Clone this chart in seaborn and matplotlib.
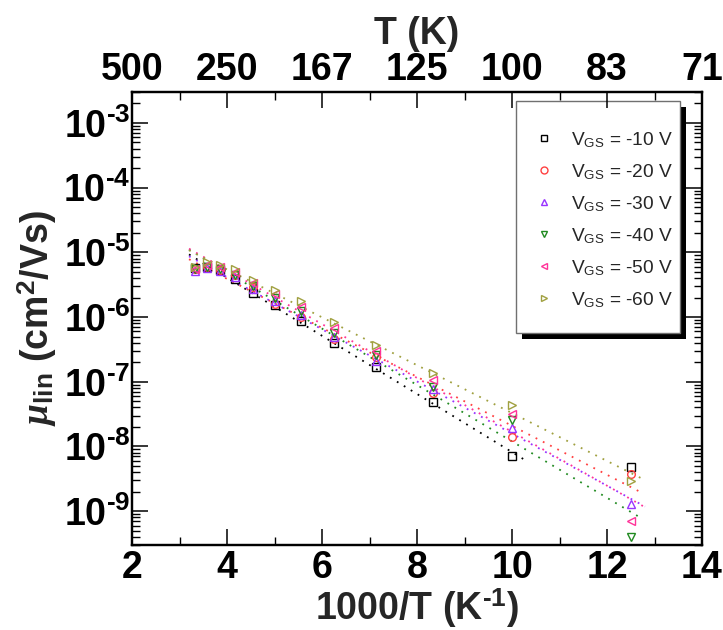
import numpy as np
import pandas as pd
import matplotlib
matplotlib.use('Agg')
import matplotlib.pyplot as plt
import seaborn as sns
from matplotlib.lines import Line2D
from matplotlib.patches import Rectangle
from matplotlib.ticker import MultipleLocator, LogLocator, NullFormatter, FuncFormatter

# ---------------- data ----------------
temperature_K = [300, 280, 260, 240, 220, 200, 180, 160, 140, 120, 100, 80]
vgs_labels = ['-10', '-20', '-30', '-40', '-50', '-60']

mu_vgs_m10 = [5.8e-6, 6.0e-6, 5.3e-6, 3.9e-6, 2.35e-6, 1.55e-6, 8.8e-7, 4.0e-7, 1.66e-7, 4.9e-8, 7.0e-9, 4.8e-9]
mu_vgs_m20 = [5.5e-6, 6.0e-6, 5.4e-6, 4.4e-6, 2.9e-6, 1.6e-6, 1.0e-6, 4.6e-7, 2.4e-7, 6.6e-8, 1.39e-8, 3.8e-9]
mu_vgs_m30 = [5.2e-6, 5.8e-6, 5.2e-6, 4.2e-6, 2.7e-6, 1.77e-6, 1.07e-6, 4.9e-7, 2.1e-7, 7.7e-8, 1.9e-8, 1.3e-9]
mu_vgs_m40 = [5.5e-6, 6.0e-6, 5.5e-6, 4.4e-6, 3.0e-6, 2.0e-6, 1.25e-6, 5.6e-7, 2.6e-7, 8.3e-8, 2.6e-8, 4.0e-10]
mu_vgs_m50 = [5.6e-6, 6.4e-6, 6.0e-6, 5.0e-6, 3.3e-6, 2.27e-6, 1.45e-6, 6.7e-7, 3.0e-7, 1.07e-7, 3.2e-8, 7.1e-10]
mu_vgs_m60 = [6.0e-6, 7.1e-6, 6.4e-6, 5.5e-6, 3.7e-6, 2.6e-6, 1.74e-6, 8.3e-7, 3.7e-7, 1.36e-7, 4.3e-8, 2.9e-9]

x_ticks = [2, 4, 6, 8, 10, 12, 14]

series = [mu_vgs_m10, mu_vgs_m20, mu_vgs_m30, mu_vgs_m40, mu_vgs_m50, mu_vgs_m60]
colors = ['#000000', '#FF4040', '#9933FF', '#208A20', '#FF3399', '#A0A040']
markers = ['s', 'o', '^', 'v', '<', '>']
# fit ranges (in 1000/T) for the dotted Arrhenius fits
fit_min = 3.0
fit_max = [10.0, 12.5, 12.5, 12.5, 12.5, 12.5]
line_end = [10.25, 12.75, 12.8, 12.7, 12.8, 12.75]
line_start = 3.2

HY = '\u2010'  # short hyphen used as minus sign in the original

# ---------------- style ----------------
sns.set_theme(style='ticks')
plt.rcParams['font.family'] = ['Liberation Sans', 'DejaVu Sans']
plt.rcParams['font.weight'] = 'bold'
plt.rcParams['mathtext.fontset'] = 'custom'
plt.rcParams['mathtext.rm'] = 'Liberation Sans'
plt.rcParams['mathtext.bf'] = 'Liberation Sans:bold'
plt.rcParams['mathtext.it'] = 'Liberation Serif:italic'
plt.rcParams['mathtext.sf'] = 'Liberation Sans'

fig = plt.figure(figsize=(7.23, 6.3), dpi=100)
fig.patch.set_facecolor('white')
ax = fig.add_axes([132 / 723, (630 - 545) / 630, 570 / 723, 453 / 630])
ax.set_facecolor('white')
ax.set_yscale('log')

xvals = 1000.0 / np.array(temperature_K, dtype=float)

for vals, col, mk, fm, le in zip(series, colors, markers, fit_max, line_end):
    v = np.array(vals)
    df = pd.DataFrame({'x': xvals, 'mu': v})
    sns.lineplot(data=df, x='x', y='mu', ax=ax, linestyle='', marker=mk,
                 markersize=5.5, markerfacecolor='none', markeredgecolor=col,
                 markeredgewidth=1.0, color=col, zorder=3)
    m = (xvals >= fit_min) & (xvals <= fm + 1e-6)
    slope, icpt = np.polyfit(xvals[m], np.log10(v[m]), 1)
    xf = np.array([line_start, le])
    dff = pd.DataFrame({'x': xf, 'mu': 10 ** (icpt + slope * xf)})
    sns.lineplot(data=dff, x='x', y='mu', ax=ax, color=col, linewidth=1.3,
                 linestyle=(0, (1, 3.5)), zorder=2)

ax.set_xlim(2, 14)
ax.set_ylim(3e-10, 3e-3)
ax.set_xticks(x_ticks)
ax.set_xticklabels([str(t) for t in x_ticks])
ax.xaxis.set_minor_locator(MultipleLocator(1))
ax.yaxis.set_major_locator(LogLocator(base=10, numticks=30))
ax.yaxis.set_minor_locator(LogLocator(base=10, subs=np.arange(2, 10), numticks=200))
ax.yaxis.set_minor_formatter(NullFormatter())
ax.yaxis.set_major_formatter(FuncFormatter(
    lambda v, p: r'$\mathbf{10^{%s%d}}$' % (HY, abs(int(round(np.log10(v)))))))

for s in ax.spines.values():
    s.set_color('black')
    s.set_linewidth(1.6)

ax.tick_params(axis='both', which='major', direction='in', length=11.5, width=1.1,
               colors='black', labelsize=27, top=False, right=True)
ax.tick_params(axis='both', which='minor', direction='in', length=6, width=1.0,
               colors='black', top=False, right=True)
ax.tick_params(axis='x', which='major', pad=3.5)
ax.tick_params(axis='y', which='major', pad=1)

ax.set_xlabel(r'1000/T (K$^{\mathbf{%s1}}$)' % HY, fontsize=27, fontweight='bold')
ax.xaxis.set_label_coords(0.5, -0.092)
ax.set_ylabel(r'$\mathit{\mu}_{\mathbf{lin}}$ (cm$^{\mathbf{2}}$/Vs)', fontsize=27, fontweight='bold')
ax.yaxis.set_label_coords(-0.128, 0.5)

# top axis in temperature
ax2 = ax.twiny()
ax2.set_xlim(ax.get_xlim())
ax2.set_xticks(x_ticks)
ax2.set_xticklabels([str(int(round(1000.0 / t))) for t in x_ticks])
ax2.xaxis.set_minor_locator(MultipleLocator(1))
ax2.tick_params(axis='x', which='major', direction='in', length=11.5, width=1.1,
                colors='black', labelsize=27, pad=3)
ax2.tick_params(axis='x', which='minor', direction='in', length=6, width=1.0, colors='black')
for s in ax2.spines.values():
    s.set_color('black')
    s.set_linewidth(1.6)
ax2.set_xlabel('T (K)', fontsize=27, fontweight='bold')
ax2.xaxis.set_label_coords(0.5, 1.105)

# legend box with black drop shadow
bx0, bx1 = (515.7 - 132) / 570, (680 - 132) / 570
by0, by1 = (545 - 332.7) / 453, (545 - 100.7) / 453
ax.add_patch(Rectangle((bx0 + 6 / 570, by0 - 6.5 / 453), bx1 - bx0, by1 - by0,
                       transform=ax.transAxes, facecolor='black', edgecolor='none',
                       zorder=4, clip_on=False))
ax.add_patch(Rectangle((bx0, by0), bx1 - bx0, by1 - by0, transform=ax.transAxes,
                       facecolor='white', edgecolor='#707070', linewidth=1.0,
                       zorder=4.5, clip_on=False))

handles = [Line2D([], [], linestyle='', marker=mk, markersize=5, markerfacecolor='none',
                  markeredgecolor=col, markeredgewidth=1.0)
           for mk, col in zip(markers, colors)]
labels = [r'V$_{\mathregular{GS}}$ = %s V' % v for v in vgs_labels]
leg = ax.legend(handles, labels, loc='center', bbox_to_anchor=(0.823, 0.718),
                frameon=False, prop={'size': 13.8, 'weight': 'normal'},
                handlelength=1.6, handletextpad=0.6, labelspacing=0.64, borderpad=0)
leg.set_zorder(6)

fig.savefig('out.png', dpi=100, facecolor='white')
